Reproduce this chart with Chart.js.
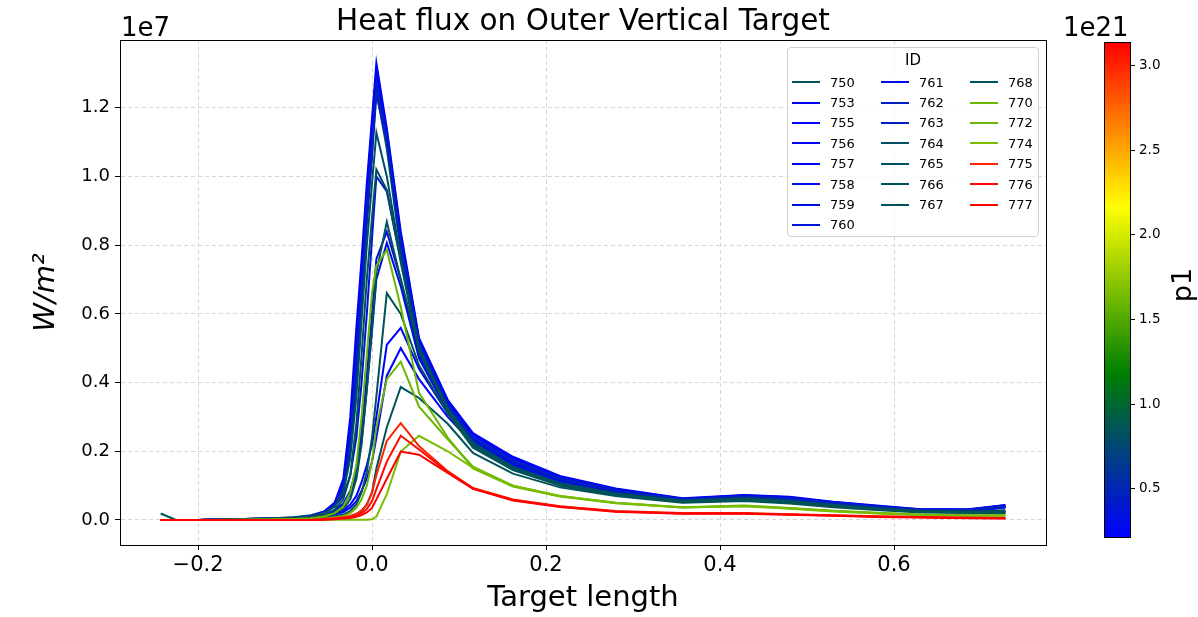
<!DOCTYPE html>
<html>
<head>
<meta charset="utf-8">
<script src="https://cdn.jsdelivr.net/npm/chart.js@4.4.1/dist/chart.umd.min.js"></script>
<style>
html,body{margin:0;padding:0;background:#fff;}
#wrap{position:relative;width:1198px;height:617px;overflow:hidden;font-family:"DejaVu Sans",sans-serif;background:#fff;}
#main{position:absolute;left:0;top:0;}
#cbar{position:absolute;left:1060px;top:0;}
#legend{position:absolute;left:787px;top:47px;width:252px;height:190px;border:1px solid #d0d0d0;border-radius:4px;background:rgba(255,255,255,0.8);box-sizing:border-box;}
#legend .ltitle{position:absolute;left:0;top:3px;width:100%;text-align:center;font-size:15px;line-height:18px;color:#000;}
#litems{position:absolute;left:4px;top:24px;display:grid;grid-template-rows:repeat(8,20.4px);grid-template-columns:repeat(3,89px);}
#litems .item{display:flex;align-items:center;font-size:13px;color:#000;white-space:nowrap;}
#litems .sw{display:inline-block;width:28px;height:2px;margin-right:10px;}
</style>
</head>
<body>
<div id="wrap">
  <canvas id="main" width="1198" height="617"></canvas>
  <canvas id="cbar" width="138" height="617"></canvas>
  <div id="legend"><div class="ltitle">ID</div><div id="litems"></div></div>
</div>
<script>
// ---------- data ----------
const TITLE = 'Heat flux on Outer Vertical Target';
const X_LABEL = 'Target length';
const Y_LABEL = 'W/m²';
const Y_OFFSET = '1e7';
const CB_LABEL = 'p1';
const CB_OFFSET = '1e21';

const X_TICKS = [-0.2, 0.0, 0.2, 0.4, 0.6];
const X_TICK_LABELS = ['\u22120.2', '0.0', '0.2', '0.4', '0.6'];
const Y_TICKS = [0.0, 0.2, 0.4, 0.6, 0.8, 1.0, 1.2];
const Y_TICK_LABELS = ['0.0', '0.2', '0.4', '0.6', '0.8', '1.0', '1.2'];
const CB_TICKS = [0.5, 1.0, 1.5, 2.0, 2.5, 3.0];
const CB_TICK_LABELS = ['0.5', '1.0', '1.5', '2.0', '2.5', '3.0'];

// target length positions (shared by all series)
const X = [-0.243, -0.226, -0.2, -0.16, -0.12, -0.09, -0.07, -0.055, -0.043, -0.033, -0.025, -0.018, -0.012, -0.006, 0.0, 0.005,
           0.017, 0.033, 0.054, 0.087, 0.116, 0.162, 0.216, 0.28, 0.357, 0.428, 0.48, 0.53, 0.58, 0.63, 0.685, 0.728];

// heat flux, units of 1e7 W/m^2
const s750 = [0.019,0.001,0,0.002,0.004,0.008,0.014,0.025,0.05,0.1,0.22,0.43,0.66,0.88,1.07,1.25,1.08,0.78,0.5,0.33,0.23,0.16,0.112,0.08,0.058,0.066,0.058,0.045,0.035,0.028,0.026,0.028];
const s753 = [0,0,0,0.001,0.002,0.004,0.007,0.011,0.018,0.028,0.045,0.07,0.11,0.16,0.22,0.3,0.51,0.559,0.44,0.31,0.225,0.162,0.114,0.082,0.056,0.064,0.059,0.046,0.036,0.027,0.027,0.037];
const s755 = [0,0,0,0.001,0.002,0.003,0.006,0.009,0.015,0.023,0.036,0.055,0.085,0.12,0.17,0.24,0.42,0.5,0.41,0.3,0.222,0.16,0.113,0.081,0.055,0.063,0.058,0.045,0.035,0.027,0.026,0.036];
const s756 = [0,0,0,0.002,0.004,0.006,0.012,0.025,0.05,0.12,0.3,0.56,0.76,0.98,1.17,1.33,1.14,0.84,0.53,0.35,0.253,0.184,0.128,0.092,0.063,0.073,0.068,0.053,0.042,0.031,0.031,0.044];
const s757 = [0,0,0,0.002,0.004,0.006,0.011,0.023,0.046,0.11,0.27,0.52,0.73,0.95,1.15,1.31,1.13,0.83,0.525,0.345,0.25,0.18,0.126,0.09,0.062,0.072,0.066,0.052,0.041,0.031,0.03,0.043];
const s758 = [0,0,0,0.001,0.002,0.005,0.009,0.016,0.028,0.048,0.085,0.15,0.26,0.42,0.6,0.76,0.839,0.7,0.48,0.32,0.23,0.165,0.116,0.084,0.057,0.065,0.06,0.047,0.037,0.028,0.027,0.038];
const s759 = [0,0,0,0.001,0.002,0.004,0.008,0.014,0.025,0.042,0.075,0.13,0.23,0.38,0.55,0.7,0.806,0.68,0.47,0.315,0.228,0.163,0.115,0.083,0.056,0.064,0.059,0.046,0.036,0.027,0.027,0.037];
const s760 = [0,0,0,0.001,0.003,0.006,0.012,0.022,0.04,0.07,0.13,0.24,0.4,0.6,0.82,1.0,0.956,0.76,0.5,0.33,0.235,0.168,0.118,0.085,0.058,0.066,0.061,0.048,0.037,0.028,0.028,0.039];
const s761 = [0,0,0,0.002,0.004,0.006,0.011,0.022,0.044,0.1,0.25,0.48,0.7,0.93,1.13,1.29,1.12,0.82,0.52,0.34,0.245,0.177,0.124,0.089,0.061,0.07,0.065,0.051,0.04,0.03,0.03,0.042];
const s762 = [0,0,0,0.002,0.003,0.006,0.011,0.021,0.042,0.09,0.23,0.45,0.67,0.9,1.1,1.27,1.11,0.81,0.515,0.335,0.24,0.172,0.121,0.087,0.06,0.068,0.063,0.05,0.039,0.03,0.029,0.04];
const s763 = [0,0,0,0.002,0.003,0.006,0.01,0.02,0.04,0.085,0.2,0.41,0.63,0.86,1.06,1.24,1.1,0.8,0.51,0.33,0.237,0.17,0.12,0.086,0.059,0.067,0.062,0.049,0.038,0.029,0.029,0.04];
const s764 = [0,0,0,0.002,0.004,0.007,0.01,0.02,0.04,0.08,0.18,0.36,0.58,0.8,0.98,1.127,1.0,0.76,0.5,0.325,0.225,0.155,0.108,0.078,0.057,0.064,0.056,0.044,0.034,0.027,0.025,0.026];
const s765 = [0,0,0,0.001,0.003,0.005,0.008,0.015,0.03,0.06,0.13,0.28,0.48,0.7,0.88,1.02,0.96,0.75,0.49,0.32,0.22,0.15,0.105,0.075,0.055,0.062,0.054,0.042,0.033,0.026,0.024,0.025];
const s766 = [0,0,0,0.001,0.002,0.004,0.006,0.01,0.018,0.032,0.06,0.12,0.22,0.38,0.56,0.72,0.868,0.7,0.5,0.32,0.215,0.148,0.103,0.074,0.054,0.06,0.052,0.041,0.032,0.025,0.023,0.023];
const s767 = [0,0,0,0.001,0.002,0.003,0.004,0.006,0.01,0.016,0.026,0.045,0.08,0.14,0.24,0.36,0.66,0.6,0.45,0.31,0.21,0.145,0.1,0.072,0.052,0.058,0.05,0.04,0.031,0.024,0.022,0.022];
const s768 = [0,0,0,0,0.001,0.001,0.002,0.003,0.005,0.007,0.01,0.016,0.026,0.045,0.08,0.15,0.27,0.387,0.355,0.28,0.195,0.135,0.095,0.07,0.05,0.055,0.048,0.037,0.029,0.022,0.02,0.02];
const s770 = [0,0,0,0.001,0.002,0.003,0.005,0.01,0.02,0.04,0.08,0.16,0.3,0.48,0.66,0.74,0.786,0.62,0.37,0.24,0.15,0.097,0.068,0.049,0.036,0.041,0.034,0.026,0.02,0.015,0.013,0.013];
const s772 = [0,0,0,0,0.001,0.002,0.003,0.004,0.008,0.012,0.02,0.035,0.06,0.1,0.17,0.27,0.41,0.461,0.33,0.235,0.155,0.1,0.07,0.05,0.037,0.042,0.035,0.027,0.021,0.016,0.014,0.014];
const s774 = [0,0,0,0,0,0,0,0,0.001,0.001,0.001,0.001,0.001,0.001,0.002,0.01,0.075,0.199,0.245,0.2,0.152,0.1,0.07,0.05,0.036,0.04,0.033,0.025,0.019,0.014,0.012,0.012];
const s775 = [0,0,0,0,0,0,0,0.003,0.005,0.008,0.012,0.018,0.028,0.045,0.08,0.13,0.23,0.282,0.215,0.142,0.093,0.06,0.04,0.026,0.02,0.02,0.017,0.014,0.011,0.009,0.007,0.006];
const s776 = [0,0,0,0,0,0,0,0.002,0.004,0.006,0.009,0.013,0.02,0.032,0.055,0.09,0.17,0.245,0.205,0.14,0.092,0.058,0.039,0.025,0.019,0.019,0.016,0.013,0.01,0.008,0.006,0.005];
const s777 = [0,0,0,0,0,0,0,0.001,0.002,0.004,0.006,0.009,0.014,0.022,0.035,0.06,0.12,0.199,0.19,0.137,0.091,0.057,0.038,0.024,0.018,0.018,0.015,0.012,0.009,0.007,0.005,0.004];

const IDS = [750,753,755,756,757,758,759,760,761,762,763,764,765,766,767,768,770,772,774,775,776,777];
const SERIES = [s750,s753,s755,s756,s757,s758,s759,s760,s761,s762,s763,s764,s765,s766,s767,s768,s770,s772,s774,s775,s776,s777];
// p1 per run, units of 1e21
const P1 = [0.85,0.215,0.22,0.23,0.24,0.30,0.33,0.36,0.30,0.45,0.45,0.80,0.80,0.85,0.85,0.85,1.60,1.60,1.65,3.00,3.10,3.138];
const CB_MIN = 0.215, CB_MAX = 3.138;

// ---------- styling ----------
const X_MIN = -0.2897, X_MAX = 0.7747;
const Y_MIN = -0.0728, Y_MAX = 1.397;
const CMAP = [[0,[0,0,255]],[1/3,[0,128,0]],[2/3,[255,255,0]],[1,[255,0,0]]];
function cmapT(t){
  t = Math.max(0, Math.min(1, t));
  for (let k = 0; k < CMAP.length - 1; k++){
    const [t0,c0] = CMAP[k], [t1,c1] = CMAP[k+1];
    if (t <= t1){
      const f = (t - t0) / (t1 - t0);
      return 'rgb(' + c0.map((c,j)=>Math.round(c + (c1[j]-c)*f)).join(',') + ')';
    }
  }
  return 'rgb(255,0,0)';
}
const cmap = v => cmapT((v - CB_MIN) / (CB_MAX - CB_MIN));
const COLORS = P1.map(cmap);

Chart.defaults.font.family = "'DejaVu Sans', sans-serif";
Chart.defaults.color = '#000';
const GRID = '#d6d6d6';

const datasets = IDS.map((id, i) => ({
  label: String(id),
  data: X.map((x, j) => ({x: x, y: SERIES[i][j]})),
  borderColor: COLORS[i],
  backgroundColor: COLORS[i],
  borderWidth: 2,
  pointRadius: 0,
  fill: false,
  tension: 0,
  order: IDS.length - i
}));

const framePlugin = {
  id: 'frame',
  afterDraw(c){
    const {ctx, chartArea: a} = c;
    ctx.save();
    ctx.strokeStyle = '#000';
    ctx.lineWidth = 1;
    ctx.strokeRect(Math.round(a.left) + 0.5, Math.round(a.top) + 0.5, Math.round(a.right - a.left), Math.round(a.bottom - a.top));
    ctx.fillStyle = '#000';
    ctx.font = "26px 'DejaVu Sans'";
    ctx.textAlign = 'left';
    ctx.textBaseline = 'alphabetic';
    ctx.fillText(Y_OFFSET, a.left + 1, a.top - 4);
    ctx.restore();
  }
};

new Chart(document.getElementById('main'), {
  type: 'line',
  data: {datasets},
  options: {
    responsive: false, animation: false, events: [],
    layout: {padding: {left: 26, right: 152, top: 0, bottom: 0}},
    plugins: {legend: {display: false}, title: {display: false}, tooltip: {enabled: false}},
    scales: {
      x: {
        type: 'linear', position: 'bottom', min: X_MIN, max: X_MAX,
        afterBuildTicks: s => { s.ticks = X_TICKS.map(v => ({value: v})); },
        afterFit: s => { s.height = 72; },
        ticks: {callback: (v, i) => X_TICK_LABELS[i], font: {size: 21}, color: '#000', padding: 3, maxRotation: 0, autoSkip: false},
        grid: {color: GRID, lineWidth: 1, tickLength: 5, tickColor: '#000', tickWidth: 1},
        border: {display: true, color: '#000', width: 1, dash: [4, 3]},
        title: {display: true, text: X_LABEL, font: {size: 29}, color: '#000', padding: {top: 0, bottom: 1}}
      },
      x2: {
        type: 'linear', position: 'top', min: X_MIN, max: X_MAX,
        afterFit: s => { s.height = 40; },
        ticks: {display: false}, grid: {display: false}, border: {display: false},
        title: {display: true, text: TITLE, font: {size: 29.5}, color: '#000', padding: {top: 5, bottom: 0}}
      },
      y: {
        type: 'linear', position: 'left', min: Y_MIN, max: Y_MAX,
        afterBuildTicks: s => { s.ticks = Y_TICKS.map(v => ({value: v})); },
        afterFit: s => { s.width = 94; },
        ticks: {callback: (v, i) => Y_TICK_LABELS[i], font: {size: 18}, color: '#000', padding: 5, autoSkip: false},
        grid: {color: GRID, lineWidth: 1, tickLength: 5, tickColor: '#000', tickWidth: 1},
        border: {display: true, color: '#000', width: 1, dash: [4, 3]},
        title: {display: true, text: Y_LABEL, font: {size: 29, style: 'italic'}, color: '#000', padding: {top: 3, bottom: 0}}
      }
    }
  },
  plugins: [framePlugin]
});

// ---------- legend (3 columns, column-major like matplotlib) ----------
(function(){
  const box = document.getElementById('litems');
  const ncol = 3, n = IDS.length;
  const base = Math.floor(n / ncol), extra = n % ncol;
  let idx = 0;
  for (let c = 0; c < ncol; c++){
    const rows = base + (c < extra ? 1 : 0);
    for (let r = 0; r < rows; r++, idx++){
      const d = document.createElement('div');
      d.className = 'item';
      d.style.gridColumn = String(c + 1);
      d.style.gridRow = String(r + 1);
      const sw = document.createElement('span');
      sw.className = 'sw';
      sw.style.background = COLORS[idx];
      const t = document.createElement('span');
      t.textContent = String(IDS[idx]);
      d.appendChild(sw); d.appendChild(t);
      box.appendChild(d);
    }
  }
})();

// ---------- colorbar ----------
const cbarPlugin = {
  id: 'cbarDeco',
  afterDraw(c){
    const {ctx, chartArea: a} = c;
    ctx.save();
    ctx.strokeStyle = '#000';
    ctx.lineWidth = 1;
    ctx.strokeRect(Math.round(a.left) + 0.5, Math.round(a.top) + 0.5, Math.round(a.right - a.left), Math.round(a.bottom - a.top));
    ctx.fillStyle = '#000';
    ctx.font = "26px 'DejaVu Sans'";
    ctx.textAlign = 'left';
    ctx.textBaseline = 'alphabetic';
    ctx.fillText(CB_OFFSET, 3, a.top - 6);
    ctx.translate(124, 285);
    ctx.rotate(-Math.PI / 2);
    ctx.font = "27px 'DejaVu Sans'";
    ctx.textAlign = 'center';
    ctx.textBaseline = 'middle';
    ctx.fillText(CB_LABEL, 0, 0);
    ctx.restore();
  }
};

new Chart(document.getElementById('cbar'), {
  type: 'bar',
  data: {
    labels: [CB_LABEL],
    datasets: [{
      data: [[CB_MIN, CB_MAX]],
      backgroundColor: (ctx) => {
        const ch = ctx.chart, a = ch.chartArea;
        if (!a) return 'blue';
        const ys = ch.scales.y;
        const g = ch.ctx.createLinearGradient(0, ys.getPixelForValue(CB_MIN), 0, ys.getPixelForValue(CB_MAX));
        CMAP.forEach(([t, col]) => g.addColorStop(t, 'rgb(' + col.join(',') + ')'));
        return g;
      },
      borderWidth: 0,
      barPercentage: 1,
      categoryPercentage: 1
    }]
  },
  options: {
    responsive: false, animation: false, events: [],
    layout: {padding: {left: 44, right: 38, top: 42, bottom: 80}},
    plugins: {legend: {display: false}, tooltip: {enabled: false}},
    scales: {
      x: {display: false},
      y: {
        position: 'right', min: CB_MIN, max: CB_MAX,
        afterBuildTicks: s => { s.ticks = CB_TICKS.map(v => ({value: v})); },
        afterFit: s => { s.width = 30; },
        ticks: {callback: (v, i) => CB_TICK_LABELS[i], font: {size: 13.5}, color: '#000', padding: 4, autoSkip: false},
        grid: {drawOnChartArea: false, tickLength: 5, tickColor: '#000', color: '#000'},
        border: {display: false}
      }
    }
  },
  plugins: [cbarPlugin]
});
</script>
</body>
</html>
